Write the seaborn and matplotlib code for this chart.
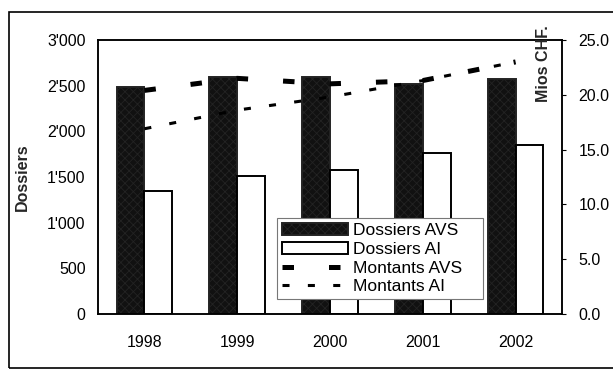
import numpy as np
import pandas as pd
import matplotlib
matplotlib.use("Agg")
import matplotlib.pyplot as plt
import seaborn as sns
from matplotlib.patches import Rectangle

# ---- data ----
years = ["1998", "1999", "2000", "2001", "2002"]
dossiers_avs = [2490, 2600, 2590, 2515, 2575]
dossiers_ai = [1345, 1515, 1580, 1760, 1855]
montants_avs = [20.4, 21.5, 21.0, 21.3, 23.0]
montants_ai = [16.9, 18.6, 19.8, 21.3, 23.0]
bar_series = ["Dossiers AVS", "Dossiers AI"]
line_series = ["Montants AVS", "Montants AI"]
left_ticks = [0, 500, 1000, 1500, 2000, 2500, 3000]
left_labels = ["0", "500", "1'000", "1'500", "2'000", "2'500", "3'000"]
right_ticks = [0, 5, 10, 15, 20, 25]
right_labels = ["0.0", "5.0", "10.0", "15.0", "20.0", "25.0"]

sns.set_theme(style="white")
plt.rcParams["font.family"] = ["Liberation Sans", "DejaVu Sans"]
plt.rcParams["hatch.linewidth"] = 0.6

W, H = 613, 370
fig = plt.figure(figsize=(W / 100, H / 100), dpi=100)
fig.patch.set_facecolor("white")
ax = fig.add_axes([98 / W, 1 - 314 / H, 464 / W, 274 / H])

df_bars = pd.DataFrame({
    "Année": years * 2,
    "Dossiers": dossiers_avs + dossiers_ai,
    "Série": [s for s in bar_series for _ in years],
})
sns.barplot(data=df_bars, x="Année", y="Dossiers", hue="Série",
            hue_order=bar_series,
            palette={"Dossiers AVS": "#111111", "Dossiers AI": "white"},
            saturation=1, width=0.6, edgecolor="black", linewidth=1.4,
            errorbar=None, legend=False, ax=ax)
for p in ax.containers[0]:
    p.set_hatch("xxxx")
    p.set_edgecolor("#232323")

ax.set_ylim(0, 3000)
ax.set_yticks(left_ticks)
ax.set_yticklabels(left_labels)
ax.set_xlabel("")
ax.set_ylabel("Dossiers", fontsize=11.5, fontweight="bold")
ax.yaxis.set_label_coords(-(98 - 30) / 464, 0.5)
ax.tick_params(axis="y", length=0, pad=9, labelsize=11.5, colors="black")
ax.tick_params(axis="x", length=0, pad=15, labelsize=11.5, colors="black")

ax2 = ax.twinx()
df_lines = pd.DataFrame({
    "pos": list(range(len(years))) * 2,
    "Montants": montants_avs + montants_ai,
    "Série": [s for s in line_series for _ in years],
})
sns.lineplot(data=df_lines, x="pos", y="Montants", hue="Série", style="Série",
             size="Série", hue_order=line_series, style_order=line_series,
             size_order=line_series,
             palette={"Montants AVS": "black", "Montants AI": "black"},
             sizes={"Montants AVS": 3.6, "Montants AI": 2.2},
             dashes={"Montants AVS": (2.3, 7.0), "Montants AI": (2.3, 6.0)},
             legend=False, ax=ax2)
for ln in ax2.lines:
    ln.set_dash_capstyle("butt")
ax2.set_ylim(0, 25)
ax2.set_yticks(right_ticks)
ax2.set_yticklabels(right_labels)
ax2.set_ylabel("")
ax2.tick_params(axis="y", length=3, width=0.8, pad=9, labelsize=11.5, colors="black")
ax.set_xlim(-0.5, len(years) - 0.5)

for a in (ax, ax2):
    for s in a.spines.values():
        s.set_color("black")
        s.set_linewidth(1.1)

fig.text(543 / W, 1 - 64 / H, "Mios CHF.", rotation=90, ha="center", va="center",
         fontsize=11.5, fontweight="bold")

handles = [ax.containers[0][0], ax.containers[1][0], ax2.lines[0], ax2.lines[1]]
labels = bar_series + line_series
leg = ax2.legend(handles, labels, loc="upper left", mode="expand",
                 bbox_to_anchor=(277 / W, 1 - 297 / H, 206 / W, 79 / H),
                 bbox_transform=fig.transFigure,
                 fontsize=12.5, handlelength=3.8, handletextpad=0.25, labelspacing=0.2,
                 borderpad=0.3, fancybox=False, framealpha=1, borderaxespad=0)
leg.get_frame().set_edgecolor("#777777")
leg.get_frame().set_linewidth(0.8)
for t in leg.get_texts():
    t.set_color("black")

fig.patches.append(Rectangle((9 / W, 1 - 368 / H), 1.2, (368 - 12) / H,
                             transform=fig.transFigure, fill=False,
                             edgecolor="black", linewidth=1.2, zorder=10))

fig.savefig("out.png", dpi=100)
